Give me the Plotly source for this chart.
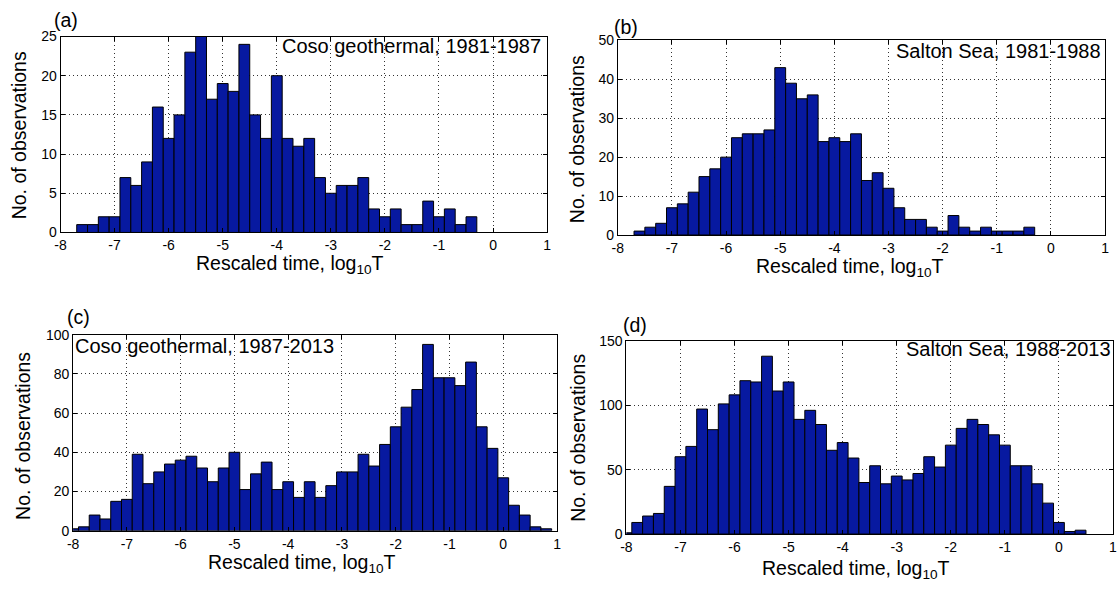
import numpy as np
import plotly.graph_objects as go

W, H = 1118, 591

# ---------------- data (counts per 0.2-wide bin of log10 T) ----------------
BIN_WIDTH = 0.2

# (a) Coso geothermal, 1981-1987 : bins from -7.7 to -0.3
counts_a = [1, 1, 2, 2, 7, 6, 9, 16, 12, 15, 23, 25, 17, 19, 18, 24, 15, 12, 20,
            12, 11, 12, 7, 5, 6, 6, 7, 3, 2, 3, 1, 1, 4, 2, 3, 1, 2]
first_center_a = -7.6

# (b) Salton Sea, 1981-1988 : bins from -7.7 to -0.3
counts_b = [1, 2, 3, 7, 8, 11, 15, 17, 20, 25, 26, 26, 27, 43, 39, 35, 36, 24, 25,
            24, 26, 14, 16, 12, 7, 4, 4, 2, 1, 5, 2, 1, 2, 1, 1, 1, 2]
first_center_b = -7.6

# (c) Coso geothermal, 1987-2013 : bins from -8.1 to 0.9
counts_c = [1, 2, 8, 6, 15, 16, 39, 24, 30, 34, 36, 38, 32, 25, 32, 40, 21, 29, 35,
            21, 25, 17, 25, 17, 23, 30, 30, 39, 33, 44, 53, 63, 72, 95, 78, 78, 74,
            86, 53, 42, 27, 13, 8, 2, 1]
first_center_c = -8.0

# (d) Salton Sea, 1988-2013 : bins from -8.1 to 0.5
counts_d = [1, 9, 14, 16, 37, 60, 68, 97, 81, 101, 108, 119, 118, 138, 111, 118, 89,
            96, 85, 65, 71, 59, 40, 53, 39, 45, 42, 47, 60, 52, 69, 82, 89, 85, 77,
            69, 53, 53, 39, 24, 9, 2, 3]
first_center_d = -8.0

x_tickvals = [-8, -7, -6, -5, -4, -3, -2, -1, 0, 1]
x_ticktext = ["-8", "-7", "-6", "-5", "-4", "-3", "-2", "-1", "0", "1"]
y_ticks_a = [0, 5, 10, 15, 20, 25]
y_ticks_b = [0, 10, 20, 30, 40, 50]
y_ticks_c = [0, 20, 40, 60, 80, 100]
y_ticks_d = [0, 50, 100, 150]

panel_labels = ["(a)", "(b)", "(c)", "(d)"]
panel_titles = ["Coso geothermal, 1981-1987", "Salton Sea, 1981-1988",
                "Coso geothermal, 1987-2013", "Salton Sea, 1988-2013"]
x_title = "Rescaled time, log<sub>10</sub>T"
y_title = "No. of observations"

# ---------------- styling ----------------
BLUE = "#0719a0"
FONT = "Liberation Sans, Arial, Helvetica, sans-serif"
TXT = 19.5
TICK = 14


def px_x(p):
    return p / W


def px_y(p):
    return 1 - p / H


panels = [
    # counts, first center, yticks, x px domain, y px domain (top, bottom)
    (counts_a, first_center_a, y_ticks_a, (55, 546), (29.3, 230.7)),
    (counts_b, first_center_b, y_ticks_b, (617.3, 1109), (33.3, 233.3)),
    (counts_c, first_center_c, y_ticks_c, (67.7, 556), (335.7, 537.3)),
    (counts_d, first_center_d, y_ticks_d, (626, 1117), (342, 540.7)),
]

fig = go.Figure()
layout = dict(
    width=W, height=H,
    margin=dict(l=0, r=0, t=0, b=0),
    paper_bgcolor="white", plot_bgcolor="white",
    showlegend=False,
    font=dict(family=FONT, size=TICK, color="black"),
)

for i, (counts, c0, yt, (xl, xr), (yt_px, yb_px)) in enumerate(panels):
    n = i + 1
    suffix = "" if n == 1 else str(n)
    centers = [round(c0 + k * BIN_WIDTH, 3) for k in range(len(counts))]
    fig.add_trace(go.Bar(
        x=centers, y=counts, width=BIN_WIDTH,
        marker=dict(color=BLUE, line=dict(color="black", width=1)),
        xaxis="x" + suffix, yaxis="y" + suffix,
        hoverinfo="x+y",
    ))
    common = dict(
        showline=True, linecolor="black", linewidth=1, mirror="ticks",
        ticks="inside", ticklen=4, tickcolor="black", tickwidth=1,
        showgrid=True, gridcolor="#333333", gridwidth=1, griddash="1px,3px",
        zeroline=False, tickfont=dict(family=FONT, size=TICK, color="black"),
        fixedrange=True,
    )
    layout["xaxis" + suffix] = dict(
        common, domain=[px_x(xl), px_x(xr)], range=[-8, 1],
        tickvals=x_tickvals, ticktext=x_ticktext, anchor="y" + suffix,
    )
    layout["yaxis" + suffix] = dict(
        common, domain=[px_y(yb_px), px_y(yt_px)], range=[0, yt[-1]],
        tickvals=yt, ticktext=[str(v) for v in yt], anchor="x" + suffix,
    )

annotations = []


def ann(text, x, y, size=TXT, xanchor="center", angle=0):
    annotations.append(dict(
        text=text, x=px_x(x), y=px_y(y), xref="paper", yref="paper",
        xanchor=xanchor, yanchor="middle", showarrow=False, textangle=angle,
        font=dict(family=FONT, size=size, color="black"),
    ))


# panel letters
for lab, (x, y) in zip(panel_labels, [(61, 12.5), (625.5, 19.5), (73.5, 317.5), (634.5, 325.5)]):
    ann(lab, x, y)

# panel titles inside axes
ann(panel_titles[0], 542, 39, size=20, xanchor="right")
ann(panel_titles[1], 1107, 44, size=20, xanchor="right")
ann(panel_titles[2], 67.5, 347.5, size=20, xanchor="left")
ann(panel_titles[3], 1117, 351, size=20, xanchor="right")

# x axis titles
for (x, y) in [(286.5, 264), (851.5, 266.5), (299, 571), (858, 577)]:
    ann(x_title, x, y)

# y axis titles
for (x, y) in [(14, 131), (576, 135), (17, 440), (577, 442)]:
    ann(y_title, x, y, angle=-90)

layout["annotations"] = annotations
fig.update_layout(**layout)
fig.write_html("out.html")
